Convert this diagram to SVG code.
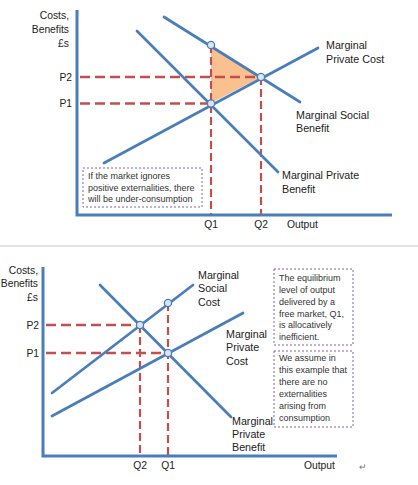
<svg xmlns="http://www.w3.org/2000/svg" width="418" height="485" viewBox="0 0 418 485">
<style>
text{font-family:"Liberation Sans",Arial,sans-serif;fill:#222;}
.lbl{font-size:10.7px;}
.ax{font-size:10.3px;}
.r{text-anchor:end;}
.m{text-anchor:middle;}
.note{font-size:9px;fill:#333;}
.note2{font-size:9px;fill:#333;}
.axis{fill:none;stroke:#4a7ebb;stroke-width:3;}
.curve{fill:none;stroke:#4a7ebb;stroke-width:2.7;stroke-linecap:round;}
.guide{fill:none;stroke:#c0504d;stroke-width:2.6;stroke-dasharray:10 5;}
.vguide{fill:none;stroke:#c0504d;stroke-width:2.2;stroke-dasharray:8 4;}
.pt{fill:#dce6f2;stroke:#4a7ebb;stroke-width:1.3;}
.box{fill:#fff;stroke:#8064a2;stroke-width:1;stroke-dasharray:2 2;}
</style>
<rect width="418" height="485" fill="#fff"/>
<line x1="0" y1="246" x2="418" y2="246" stroke="#c8c8c8" stroke-width="1.2"/>

<!-- TOP CHART -->
<g id="top-chart">
  <polygon id="welfare-loss" points="211,45 261,77 211,103" fill="#fac090"/>
  <g id="top-guides">
    <line class="guide" x1="80" y1="77" x2="261" y2="77"/>
    <line class="guide" x1="80" y1="103.5" x2="211" y2="103.5"/>
    <line class="vguide" x1="211" y1="45" x2="211" y2="214"/>
    <line class="vguide" x1="261" y1="77" x2="261" y2="214"/>
  </g>
  <g id="top-curves">
    <line id="mpc1" class="curve" x1="104" y1="163" x2="318" y2="48"/>
    <line id="msb1" class="curve" x1="164" y1="17" x2="300" y2="102"/>
    <line id="mpb1" class="curve" x1="137" y1="31" x2="278" y2="172"/>
  </g>
  <path id="top-axes" class="axis" d="M77,10 V215 H392"/>
  <g id="top-points">
    <circle class="pt" cx="211" cy="45" r="3.6"/>
    <circle class="pt" cx="261" cy="77" r="3.6"/>
    <circle class="pt" cx="211" cy="103.5" r="3.6"/>
  </g>
  <g id="top-axis-labels">
    <text class="ax r" x="69" y="19">Costs,</text>
    <text class="ax r" x="69" y="33">Benefits</text>
    <text class="ax r" x="69" y="47">£s</text>
    <text class="ax r" x="72" y="81">P2</text>
    <text class="ax r" x="72" y="107">P1</text>
    <text class="ax m" x="211" y="228">Q1</text>
    <text class="ax m" x="261" y="228">Q2</text>
    <text class="ax" x="287" y="228">Output</text>
  </g>
  <g id="top-curve-labels">
    <text class="lbl" x="326" y="49">Marginal</text>
    <text class="lbl" x="326" y="63">Private Cost</text>
    <text class="lbl" x="296" y="119">Marginal Social</text>
    <text class="lbl" x="296" y="132">Benefit</text>
    <text class="lbl" x="282" y="179">Marginal Private</text>
    <text class="lbl" x="282" y="193">Benefit</text>
  </g>
  <g id="top-note">
    <rect class="box" x="83" y="168" width="119" height="39"/>
    <text class="note" x="88" y="179">If the market ignores</text>
    <text class="note" x="88" y="191">positive externalities, there</text>
    <text class="note" x="88" y="202">will be under-consumption</text>
  </g>
</g>

<!-- BOTTOM CHART -->
<g id="bottom-chart">
  <g id="bottom-guides">
    <line class="guide" x1="46" y1="325" x2="140" y2="325"/>
    <line class="guide" x1="46" y1="353" x2="168" y2="353"/>
    <line class="vguide" x1="140" y1="325" x2="140" y2="455"/>
    <line class="vguide" x1="168" y1="303" x2="168" y2="455"/>
  </g>
  <g id="bottom-curves">
    <line id="msc2" class="curve" x1="52" y1="393" x2="193" y2="285"/>
    <line id="mpc2" class="curve" x1="52" y1="416" x2="243" y2="313"/>
    <line id="mpb2" class="curve" x1="100" y1="285" x2="231" y2="417"/>
  </g>
  <path id="bottom-axes" class="axis" d="M43,267 V456 H337"/>
  <g id="bottom-points">
    <circle class="pt" cx="140" cy="325" r="3.6"/>
    <circle class="pt" cx="168" cy="353" r="3.6"/>
    <circle class="pt" cx="168" cy="303" r="3.6"/>
  </g>
  <g id="bottom-axis-labels">
    <text class="ax r" x="38" y="274">Costs,</text>
    <text class="ax r" x="38" y="287">Benefits</text>
    <text class="ax r" x="38" y="301">£s</text>
    <text class="ax r" x="39" y="329">P2</text>
    <text class="ax r" x="39" y="357">P1</text>
    <text class="ax m" x="140" y="469">Q2</text>
    <text class="ax m" x="168" y="469">Q1</text>
    <text class="ax" x="304" y="469">Output</text>
    <text x="359" y="470" style="font-size:9px;fill:#777">↵</text>
  </g>
  <g id="bottom-curve-labels">
    <text class="lbl" x="198" y="279">Marginal</text>
    <text class="lbl" x="198" y="292">Social</text>
    <text class="lbl" x="198" y="306">Cost</text>
    <text class="lbl" x="226" y="338">Marginal</text>
    <text class="lbl" x="226" y="351">Private</text>
    <text class="lbl" x="226" y="365">Cost</text>
    <text class="lbl" x="232" y="425">Marginal</text>
    <text class="lbl" x="232" y="438">Private</text>
    <text class="lbl" x="232" y="451">Benefit</text>
  </g>
  <g id="note-inefficient">
    <rect class="box" x="274" y="269" width="79" height="76"/>
    <text class="note2" x="279" y="281">The equilibrium</text>
    <text class="note2" x="279" y="293">level of output</text>
    <text class="note2" x="279" y="305">delivered by a</text>
    <text class="note2" x="279" y="317">free market, Q1,</text>
    <text class="note2" x="279" y="328">is allocatively</text>
    <text class="note2" x="279" y="340">inefficient.</text>
  </g>
  <g id="note-assume">
    <rect class="box" x="274" y="351" width="79" height="76"/>
    <text class="note2" x="279" y="361">We assume in</text>
    <text class="note2" x="279" y="373">this example that</text>
    <text class="note2" x="279" y="385">there are no</text>
    <text class="note2" x="279" y="397">externalities</text>
    <text class="note2" x="279" y="409">arising from</text>
    <text class="note2" x="279" y="421">consumption</text>
  </g>
</g>
</svg>
